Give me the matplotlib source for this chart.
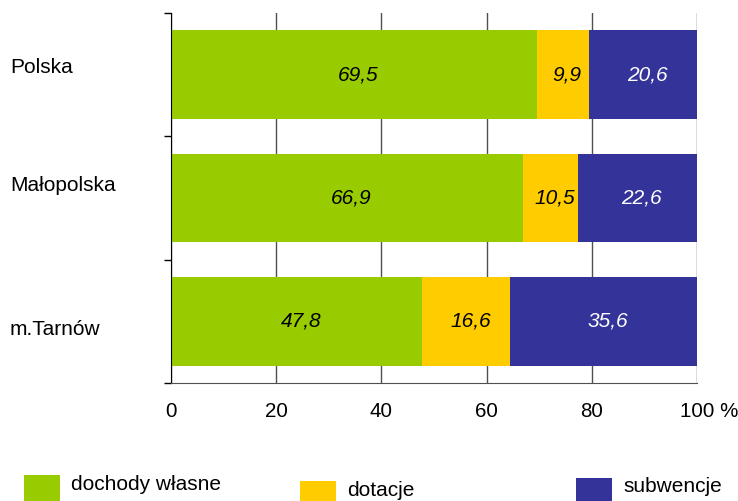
import matplotlib.pyplot as plt
import matplotlib.transforms as mtransforms
import numpy as np
from matplotlib.patches import Rectangle

plt.rcParams['font.family'] = ['Liberation Sans', 'DejaVu Sans']

regions = ['Polska', 'Małopolska', 'm.Tarnów']
series_names = ['dochody własne', 'dotacje', 'subwencje']
dochody = [69.5, 66.9, 47.8]
dotacje = [9.9, 10.5, 16.6]
subwencje = [20.6, 22.6, 35.6]
tick_values = [0, 20, 40, 60, 80, 100]
tick_labels = ['0', '20', '40', '60', '80', '100 %']

colors = ['#99CC00', '#FFCC00', '#333399']
text_colors = ['black', 'black', 'white']
# small vertical nudges of the region names (in category units), as in the original
label_nudge = [0.06, 0.10, -0.07]

W, H = 738, 501
fig = plt.figure(figsize=(W / 100, H / 100), dpi=100)
ax = fig.add_axes([171 / W, 1 - 383 / H, 526 / W, 370 / H])

positions = np.arange(len(regions))[::-1]
left = np.zeros(len(regions))
for values, color, tcolor in zip([dochody, dotacje, subwencje], colors, text_colors):
    values = np.array(values)
    ax.barh(positions, values, left=left, height=0.72, color=color, zorder=2)
    for pos, l, v in zip(positions, left, values):
        ax.text(l + v / 2 + 0.8, pos, f'{v:.1f}'.replace('.', ','), ha='center', va='center',
                fontsize=15, style='italic', color=tcolor, zorder=3)
    left += values

ax.set_xlim(0, 100)
ax.set_ylim(-0.5, len(regions) - 0.5)
ax.set_xticks(tick_values)
ax.set_xticklabels(tick_labels, fontsize=14.8)
ax.tick_params(axis='x', length=0, pad=14)
ax.grid(axis='x', color='#505050', linewidth=1, zorder=1)

# keep "100" centred on its gridline, with the "%" trailing to the right
last = ax.get_xticklabels()[-1]
last.set_ha('left')
last.set_transform(last.get_transform() + mtransforms.ScaledTranslation(-17 / 100, 0, fig.dpi_scale_trans))

ax.set_yticks(np.arange(-0.5, len(regions), 1.0))
ax.set_yticklabels([])
ax.tick_params(axis='y', direction='out', length=5, width=1, color='black')

ax.spines['top'].set_visible(False)
ax.spines['right'].set_visible(False)
ax.spines['left'].set_color('black')
ax.spines['bottom'].set_color('#505050')

trans = mtransforms.blended_transform_factory(fig.transFigure, ax.transData)
for pos, name, nudge in zip(positions, regions, label_nudge):
    ax.text(10 / W, pos + nudge, name, transform=trans, ha='left', va='center', fontsize=15)

# legend keys drawn by hand, spread across the bottom edge like the original
key_x = [24, 300, 576]
key_top = [475, 481, 478]
text_y = [484, 490, 486]
for name, color, kx, kt, ty in zip(series_names, colors, key_x, key_top, text_y):
    fig.patches.append(Rectangle((kx / W, 0), 36 / W, (H - kt) / H, transform=fig.transFigure,
                                 facecolor=color, edgecolor='none'))
    fig.text((kx + 47) / W, 1 - ty / H, name, ha='left', va='center', fontsize=15)

fig.savefig('out.png', dpi=100)
